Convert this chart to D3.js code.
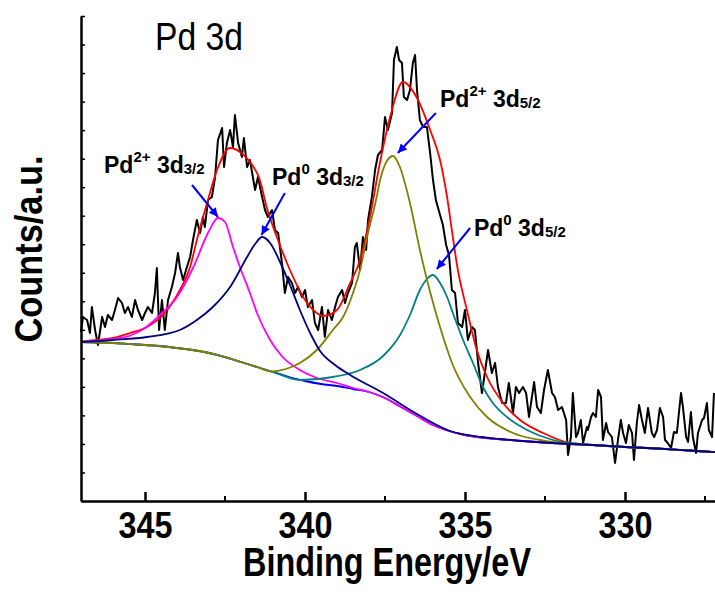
<!DOCTYPE html>
<html lang="en">
<head>
<meta charset="UTF-8" />
<title>Pd 3d XPS</title>
<script src="https://d3js.org/d3.v7.min.js"></script>
<style>
  body { margin: 0; background: #fff; }
  svg { display: block; font-family: "Liberation Sans", Arial, sans-serif; }
</style>
</head>
<body>
<script>

// binding energy (eV), counts (a.u.)

// measured spectrum
var raw = [
[347.00,169],[346.94,184],[346.81,181],[346.72,168],[346.66,194],[346.56,171],[346.47,156],[346.34,184],
[346.25,174],[346.16,186],[346.03,181],[345.94,191],[345.84,203],[345.72,198],[345.63,188],[345.53,194],
[345.41,184],[345.31,201],[345.22,191],[345.09,181],[345.00,188],[344.91,194],[344.78,188],[344.69,208],
[344.63,233],[344.56,171],[344.47,201],[344.38,171],[344.28,201],[344.16,214],[344.06,228],[343.97,248],
[343.91,234],[343.81,221],[343.69,234],[343.59,244],[343.50,261],[343.38,281],[343.28,268],[343.19,284],
[343.13,274],[343.03,301],[342.91,304],[342.81,324],[342.72,361],[342.59,373],[342.53,334],[342.44,358],
[342.34,371],[342.25,354],[342.19,386],[342.09,358],[341.97,344],[341.91,363],[341.81,334],[341.72,341],
[341.56,311],[341.47,324],[341.34,304],[341.25,291],[341.16,284],[341.03,291],[340.94,271],[340.84,268],
[340.72,238],[340.63,208],[340.53,224],[340.41,218],[340.31,208],[340.22,214],[340.09,204],[340.00,211],
[339.91,194],[339.78,201],[339.69,178],[339.59,171],[339.47,194],[339.38,164],[339.28,191],[339.16,181],
[339.06,194],[338.97,204],[338.84,211],[338.75,198],[338.66,208],[338.53,218],[338.44,254],[338.38,258],
[338.28,231],[338.19,264],[338.09,251],[338.03,281],[337.91,304],[337.81,331],[337.72,346],[337.59,351],
[337.50,384],[337.41,371],[337.28,388],[337.22,441],[337.13,454],[337.06,441],[336.97,438],[336.91,404],
[336.81,401],[336.72,411],[336.63,438],[336.56,446],[336.50,411],[336.41,381],[336.31,374],[336.19,374],
[336.09,348],[336.00,321],[335.91,301],[335.78,286],[335.69,276],[335.59,256],[335.50,246],[335.41,211],
[335.31,208],[335.22,178],[335.09,174],[335.00,191],[334.91,161],[334.78,174],[334.69,171],[334.59,138],
[334.47,108],[334.38,128],[334.28,151],[334.16,128],[334.06,138],[333.97,114],[333.84,98],[333.72,98],
[333.63,118],[333.50,88],[333.41,114],[333.31,108],[333.19,114],[333.09,108],[333.00,84],[332.84,119],
[332.75,94],[332.63,88],[332.53,111],[332.41,131],[332.28,108],[332.19,104],[332.09,91],[331.97,94],
[331.84,81],[331.78,46],[331.69,64],[331.63,108],[331.53,64],[331.47,68],[331.38,81],[331.31,58],
[331.19,74],[331.16,71],[331.06,84],[331.00,88],[330.91,84],[330.84,111],[330.75,104],[330.69,61],
[330.59,78],[330.53,69],[330.41,64],[330.31,38],[330.22,61],[330.13,81],[330.06,68],[329.97,58],
[329.88,76],[329.78,68],[329.72,41],[329.63,78],[329.56,96],[329.47,81],[329.38,68],[329.28,93],
[329.16,68],[329.09,64],[329.00,71],[328.91,93],[328.81,84],[328.75,61],[328.69,59],[328.56,53],
[328.47,69],[328.38,68],[328.25,108],[328.19,94],[328.09,64],[328.03,59],[327.94,89],[327.88,64],
[327.78,48],[327.72,68],[327.59,81],[327.53,83],[327.44,98],[327.38,71],[327.28,64],[327.22,108]
];

// Shirley background
var background = [
[347,159],[346.5,158.5],[346,158],[345.5,157],[345,156],[344.5,155],[344,153],[343.5,151],[343,148],
[342.5,144],[342,139],[341.5,134],[341,129],[340.5,124],[340,120],[339.5,117],[339,115],[338.5,112],
[338,109],[337.5,103],[337,94],[336.5,85],[336,76],[335.5,70],[335,66],[334.5,63.5],[334,62],
[333,59.5],[332,57.5],[331,56],[330,54],[329,52.5],[328,50.5],[327,48.5]
];

// fitted components (background included)
var pd2p32 = [
[347,159],[346,162],[345.5,165],[345,173],[344.5,187],[344,204],[343.5,233],[343,270],[342.72,283],
[342.5,279],[342.25,254],[342,231],[341.72,208],[341.5,188],[341.09,161],[340.7,144],[340.16,131],
[339.63,123],[339,118],[338.5,113],[338,109],[337.5,103],[337,94],[336.5,85],[336,76],[335.5,70],
[335,66],[334.5,63.5],[334,62],[333,59.5],[332,57.5],[331,56],[330,54],[329,52.5],[328,50.5],[327,48.5]
];
var pd0_32 = [
[347,159],[346,161],[344.94,164],[343.91,171],[343.38,181],[342.88,194],[342.34,214],[341.81,244],
[341.56,257],[341.34,264],[341.09,258],[340.78,239],[340.47,216],[340.16,191],[339.84,168],[339.53,150],
[339.06,136],[338.59,126],[337.56,108],[336.5,87],[335.47,70],[334.5,64],[333.91,62],[333,59.5],
[332,57.5],[331,56],[330,54],[329,52.5],[328,50.5],[327,48.5]
];
var pd2p52 = [
[347,159],[346,158],[345,156],[344,153],[343,148],[342.5,144],[342,139],[341.5,134],[341.05,129.5],
[340.6,132],[340.16,138],[339.63,151],[339.13,171],[338.81,184],[338.5,208],[338.28,231],[338.06,264],
[337.78,301],[337.63,324],[337.44,340],[337.25,345],[337.06,336],[336.72,298],[336.41,251],[336.09,209],
[335.78,174],[335.38,136],[334.84,104],[334.31,84],[333.5,68],[332.66,61],[331.72,57],[331,56],
[330,54],[329,52.5],[328,50.5],[327,48.5]
];
var pd0_52 = [
[347,159],[346,158],[345,156],[344,153],[343,148],[342,139],[341,129],[340.16,121],[339.13,124],
[338.28,131],[337.56,145],[337.03,166],[336.72,186],[336.41,211],[336.19,222],[336.0,226],[335.78,218],
[335.56,204],[335.38,188],[335.06,161],[334.75,138],[334.44,114],[334.13,98],[333.69,84],[333.06,71],
[332.25,61],[331.72,58],[331,56],[330,54],[329,52.5],[328,50.5],[327,48.5]
];
// sum of the fit
var envelope = [
[347,159],[346.81,160],[346,163],[345.47,168],[344.94,174],[344.44,186],[343.91,211],[343.59,234],
[343.38,261],[343.06,298],[342.75,331],[342.34,353],[342.03,349],[341.72,339],[341.41,321],[341.19,293],
[340.88,264],[340.47,231],[340.06,204],[339.63,188],[339.44,185],[339,191],[338.59,218],[338.28,241],
[337.97,284],[337.66,338],[337.34,384],[336.94,419],[336.5,403],[336.09,371],[335.78,341],[335.56,304],
[335.38,264],[335.25,236],[334.94,191],[334.63,151],[334.31,124],[333.81,98],[333.28,81],[332.56,68],
[331.72,58],[331,56],[330,54],[329,52.5],[328,50.5],[327,48.5]
];

var xMajor = [345, 340, 335, 330];
var xMinor = [342.5, 337.5, 332.5, 327.5];

// peak labels: text anchor, arrow tail and tip in data units
var labels = [
  {sup: "2+", sub: "3/2", at: [346.28, 328], tail: [343.53, 316], tip: [342.72, 284]},
  {sup: "0",  sub: "3/2", at: [341.03, 316], tail: [340.63, 308], tip: [341.36, 266]},
  {sup: "2+", sub: "5/2", at: [335.78, 394], tail: [335.91, 388], tip: [337.10, 348]},
  {sup: "0",  sub: "5/2", at: [334.72, 265], tail: [334.84, 273], tip: [335.88, 232]}
];

var width = 715, height = 592;
var margin = {top: 16, left: 81, bottom: 91};
var plotH = height - margin.top - margin.bottom;

var svg = d3.select("body").append("svg")
  .attr("width", width)
  .attr("height", height);

var x = d3.scaleLinear().domain([347, 327]).range([margin.left, margin.left + 640]);
var y = d3.scaleLinear().domain([0, 485]).range([margin.top + plotH, margin.top]);

var line = d3.line()
  .x(function(d) { return x(d[0]); })
  .y(function(d) { return y(d[1]); });

var smooth = d3.line()
  .x(function(d) { return x(d[0]); })
  .y(function(d) { return y(d[1]); })
  .curve(d3.curveMonotoneX);

// raw data
svg.append("path").datum(raw)
  .attr("fill", "none").attr("stroke", "#000").attr("stroke-width", 2)
  .attr("stroke-linejoin", "round")
  .attr("d", line);

var fits = [
  {data: envelope, color: "#ff0000"},
  {data: background, color: "#0000ff"},
  {data: pd2p32, color: "#ff00ff"},
  {data: pd0_52, color: "#008080"},
  {data: pd2p52, color: "#808000"},
  {data: pd0_32, color: "#000080"}
];

svg.selectAll(".fit").data(fits).enter().append("path")
  .attr("class", "fit")
  .attr("fill", "none")
  .attr("stroke", function(d) { return d.color; })
  .attr("stroke-width", 1.8)
  .attr("d", function(d) { return smooth(d.data); });

// axes
var xAxis = svg.append("g")
  .attr("transform", "translate(0," + y(0) + ")")
  .call(d3.axisBottom(x).tickValues(xMajor).tickSize(-9).tickSizeOuter(0).tickPadding(11));
xAxis.select(".domain").attr("stroke-width", 2.5);
xAxis.selectAll(".tick line").attr("stroke-width", 2.5);
xAxis.selectAll(".tick text")
  .attr("font-size", 37).attr("font-weight", "bold")
  .attr("font-family", "'Liberation Sans', Arial, sans-serif")
  .attr("textLength", 54).attr("lengthAdjust", "spacingAndGlyphs");

xAxis.selectAll(".minor").data(xMinor).enter().append("line")
  .attr("class", "minor")
  .attr("x1", function(d) { return x(d); }).attr("x2", function(d) { return x(d); })
  .attr("y1", 0).attr("y2", -5)
  .attr("stroke", "#000").attr("stroke-width", 2);

var yAxis = svg.append("g")
  .attr("transform", "translate(" + margin.left + ",0)")
  .call(d3.axisLeft(y).tickValues(d3.range(18).map(function(i) { return i * 485 / 17; }))
    .tickSize(-4).tickSizeOuter(0).tickFormat(""));
yAxis.select(".domain").attr("stroke-width", 2.5);
yAxis.selectAll(".tick line").attr("stroke-width", 1.5);

// titles
svg.append("text")
  .attr("x", 387).attr("y", 576)
  .attr("text-anchor", "middle")
  .attr("font-size", 41).attr("font-weight", "bold")
  .attr("textLength", 288).attr("lengthAdjust", "spacingAndGlyphs")
  .text("Binding Energy/eV");

svg.append("text")
  .attr("transform", "translate(42,249) rotate(-90)")
  .attr("text-anchor", "middle")
  .attr("font-size", 38).attr("font-weight", "bold")
  .attr("textLength", 187).attr("lengthAdjust", "spacingAndGlyphs")
  .text("Counts/a.u.");

svg.append("text")
  .attr("x", 155).attr("y", 50)
  .attr("font-size", 38)
  .attr("textLength", 88).attr("lengthAdjust", "spacingAndGlyphs")
  .text("Pd 3d");

// arrows and peak labels
svg.append("defs").append("marker")
  .attr("id", "head")
  .attr("viewBox", "0 0 10 10")
  .attr("refX", 10).attr("refY", 5)
  .attr("markerWidth", 12).attr("markerHeight", 9)
  .attr("markerUnits", "userSpaceOnUse")
  .attr("orient", "auto")
  .append("path").attr("d", "M0,0L10,5L0,10Z").attr("fill", "#0000ff");

svg.selectAll(".arrow").data(labels).enter().append("line")
  .attr("class", "arrow")
  .attr("x1", function(d) { return x(d.tail[0]); })
  .attr("y1", function(d) { return y(d.tail[1]); })
  .attr("x2", function(d) { return x(d.tip[0]); })
  .attr("y2", function(d) { return y(d.tip[1]); })
  .attr("stroke", "#0000ff").attr("stroke-width", 2)
  .attr("marker-end", "url(#head)");

var lab = svg.selectAll(".lab").data(labels).enter().append("text")
  .attr("class", "lab")
  .attr("x", function(d) { return x(d.at[0]); })
  .attr("y", function(d) { return y(d.at[1]); })
  .attr("font-weight", "bold");
lab.append("tspan").attr("font-size", 23).text("Pd");
lab.append("tspan").attr("font-size", 15).attr("dy", -11).text(function(d) { return d.sup; });
lab.append("tspan").attr("font-size", 23).attr("dy", 11).text(" 3d");
lab.append("tspan").attr("font-size", 15).attr("dy", 1).text(function(d) { return d.sub; });

</script>
</body>
</html>
